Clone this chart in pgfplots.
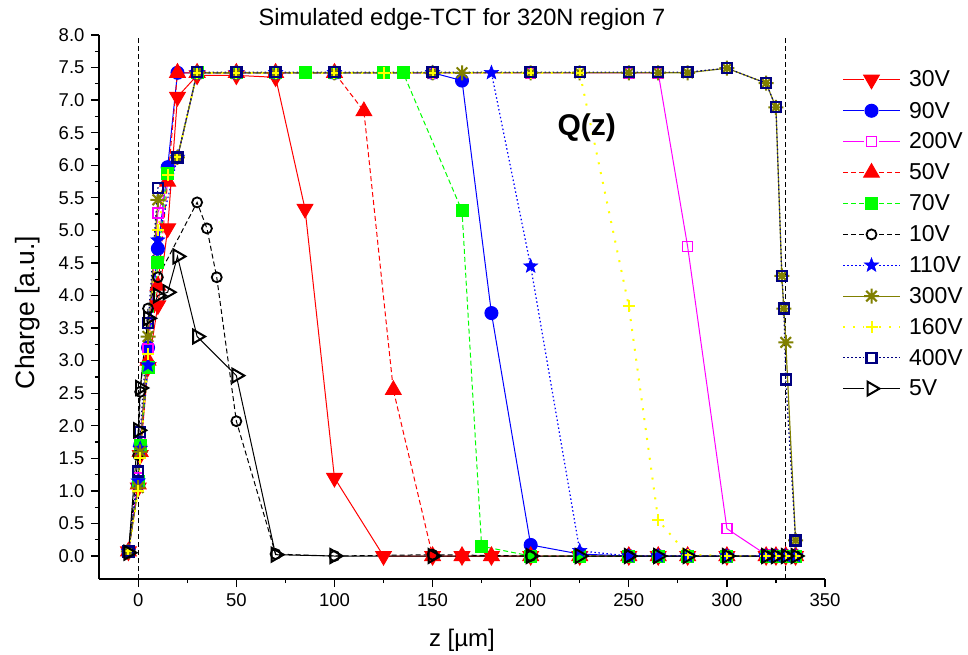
\documentclass[border=0pt]{standalone}
\usepackage{fontspec}
\setmainfont{Liberation Sans}
\usepackage{pgfplots}
\pgfplotsset{compat=1.18}

\definecolor{olv}{RGB}{128,128,0}
\definecolor{nvy}{RGB}{0,0,128}
\definecolor{ylw}{RGB}{255,255,0}
\definecolor{grn}{RGB}{0,255,0}
\definecolor{mag}{RGB}{255,0,255}

% filled five-pointed star
\pgfdeclareplotmark{fstar}{%
  \pgfpathmoveto{\pgfqpointpolar{90}{\pgfplotmarksize}}%
  \pgfpathlineto{\pgfqpointpolar{126}{0.42\pgfplotmarksize}}%
  \pgfpathlineto{\pgfqpointpolar{162}{\pgfplotmarksize}}%
  \pgfpathlineto{\pgfqpointpolar{198}{0.42\pgfplotmarksize}}%
  \pgfpathlineto{\pgfqpointpolar{234}{\pgfplotmarksize}}%
  \pgfpathlineto{\pgfqpointpolar{270}{0.42\pgfplotmarksize}}%
  \pgfpathlineto{\pgfqpointpolar{306}{\pgfplotmarksize}}%
  \pgfpathlineto{\pgfqpointpolar{342}{0.42\pgfplotmarksize}}%
  \pgfpathlineto{\pgfqpointpolar{18}{\pgfplotmarksize}}%
  \pgfpathlineto{\pgfqpointpolar{54}{0.42\pgfplotmarksize}}%
  \pgfpathclose
  \pgfusepathqfillstroke
}
% eight-armed asterisk
\pgfdeclareplotmark{ast8}{%
  \pgfpathmoveto{\pgfqpoint{-\pgfplotmarksize}{0pt}}%
  \pgfpathlineto{\pgfqpoint{\pgfplotmarksize}{0pt}}%
  \pgfpathmoveto{\pgfqpoint{0pt}{-\pgfplotmarksize}}%
  \pgfpathlineto{\pgfqpoint{0pt}{\pgfplotmarksize}}%
  \pgfpathmoveto{\pgfqpoint{-0.707\pgfplotmarksize}{-0.707\pgfplotmarksize}}%
  \pgfpathlineto{\pgfqpoint{0.707\pgfplotmarksize}{0.707\pgfplotmarksize}}%
  \pgfpathmoveto{\pgfqpoint{-0.707\pgfplotmarksize}{0.707\pgfplotmarksize}}%
  \pgfpathlineto{\pgfqpoint{0.707\pgfplotmarksize}{-0.707\pgfplotmarksize}}%
  \pgfusepathqstroke
}

\begin{document}
\begin{tikzpicture}
\useasboundingbox (-99pt,-76pt) rectangle (869pt,579pt);
\begin{axis}[
  scale only axis, width=726pt, height=544pt,
  xmin=-20, xmax=350, ymin=-0.353, ymax=8,
  axis lines*=left,
  axis line style={line width=1.5pt, -},
  tick align=outside,
  major tick length=8pt, minor tick length=4pt,
  every tick/.style={line width=1.3pt, black},
  xtick={0,50,...,350}, minor xtick={25,75,...,325},
  ytick={0,0.5,...,8}, minor ytick={0.25,0.75,...,7.75},
  /pgf/number format/assume math mode=true,
  tick label style={font=\fontsize{18.5}{18.5}\selectfont},
  xticklabel style={yshift=-3pt},
  yticklabel style={xshift=-3pt, /pgf/number format/.cd, fixed, fixed zerofill, precision=1},
  title={Simulated edge-TCT for 320N region 7},
  title style={font=\fontsize{23.6}{23.6}\selectfont, at={(0.5,1)}, anchor=base, yshift=3pt},
  xlabel={z [µm]}, ylabel={Charge [a.u.]},
  xlabel style={font=\fontsize{24}{24}\selectfont, at={(axis description cs:0.5,-0.112)}, anchor=center},
  ylabel style={font=\fontsize{26.5}{26.5}\selectfont, at={(axis description cs:-0.098,0.49)}, anchor=center},
  legend style={draw=none, fill=none, inner sep=0pt, outer sep=0pt,
    at={(1.0234,0.934)}, anchor=north west,
    font=\fontsize{23}{23}\selectfont, row sep=13.3pt,
    nodes={inner sep=0pt},
    /tikz/every odd column/.append style={column sep=8pt}},
  legend cell align=left,
  legend image code/.code={
    \draw[#1, mark=none] (0pt,0pt) -- (21pt,0pt) (36pt,0pt) -- (57pt,0pt);
    \draw[#1, only marks] plot coordinates {(28.5pt,0pt)};
  },
  clip=false,
]

% boundaries of the sensitive region
\addplot[black, line width=1pt, dash pattern=on 5pt off 3pt, forget plot] coordinates {(0,-0.353) (0,8)};
\addplot[black, line width=1pt, dash pattern=on 5pt off 3pt, forget plot] coordinates {(330,-0.353) (330,8)};

% 30V
\addplot[red, line width=1pt, mark=triangle*, mark size=9pt, mark options={solid, rotate=180, fill=red}] coordinates {
(-5,0.07) (0,1.05) (1,1.55) (5,2.9) (10,3.85) (15,5.03) (20,7.05) (30,7.38) (50,7.38) (70,7.35) (85,5.33) (100,1.2) (125,0.0) (150,0.0) (165,0.0) (180,0.0) (200,0.0) (225,0.0) (250,0.0) (265,0.0) (280,0.0) (300,0.0) (320,0.0) (325,0.0) (330,0.0) (335,0.0)};
\addlegendentry{30V}

% 90V
\addplot[blue, line width=1pt, mark=*, mark size=6.5pt, mark options={solid, fill=blue}] coordinates {
(-5,0.07) (0,1.1) (1,1.7) (5,3.2) (10,4.72) (15,5.97) (20,7.42) (30,7.42) (50,7.42) (70,7.42) (100,7.42) (150,7.42) (165,7.3) (180,3.73) (200,0.17) (225,0.03) (250,0.0) (265,0.0) (280,0.0) (300,0.0) (320,0.0) (325,0.0) (330,0.0) (335,0.0)};
\addlegendentry{90V}

% 200V
\addplot[mag, line width=1pt, mark=square, mark size=5pt, mark options={solid, line width=1.6pt}] coordinates {
(-5,0.07) (0,1.2) (1,1.75) (5,3.18) (10,5.27) (20,6.12) (30,7.42) (50,7.42) (70,7.42) (100,7.42) (150,7.42) (200,7.42) (250,7.42) (265,7.42) (280,4.75) (300,0.42) (320,0.02) (325,0.0) (330,0.0) (335,0.0)};
\addlegendentry{200V}

% 50V
\addplot[red, line width=1pt, dash pattern=on 5pt off 3pt, mark=triangle*, mark size=9pt, mark options={solid, fill=red}] coordinates {
(-5,0.07) (0,1.1) (1,1.6) (5,3.0) (10,4.15) (15,5.75) (20,7.42) (30,7.42) (50,7.42) (70,7.42) (100,7.42) (115,6.83) (130,2.55) (150,0.0) (165,0.0) (180,0.0) (200,0.0) (225,0.0) (250,0.0) (265,0.0) (280,0.0) (300,0.0) (320,0.0) (325,0.0) (330,0.0) (335,0.0)};
\addlegendentry{50V}

% 70V
\addplot[grn, line width=1pt, dash pattern=on 5pt off 3pt, mark=square*, mark size=6pt, mark options={solid, fill=grn}] coordinates {
(-5,0.07) (0,1.15) (1,1.7) (5,2.9) (10,4.5) (15,5.88) (20,6.12) (30,7.42) (50,7.42) (70,7.42) (85,7.42) (100,7.42) (125,7.42) (135,7.42) (165,5.3) (175,0.15) (200,0.0) (225,0.0) (250,0.0) (265,0.0) (280,0.0) (300,0.0) (320,0.0) (325,0.0) (330,0.0) (335,0.0)};
\addlegendentry{70V}

% 10V
\addplot[black, line width=1pt, dash pattern=on 5pt off 3pt, mark=o, mark size=5pt, mark options={solid, line width=1.8pt}] coordinates {
(-5,0.05) (0,1.55) (1,2.52) (5,3.8) (10,4.28) (30,5.43) (35,5.03) (40,4.28) (50,2.07) (70,0.03) (100,0.0) (150,0.02) (200,0.0) (250,0.0) (300,0.0) (320,0.0) (325,0.0) (330,0.0) (335,0.0)};
\addlegendentry{10V}

% 110V
\addplot[blue, line width=1.2pt, dash pattern=on 1.5pt off 2.5pt, mark=fstar, mark size=7.5pt, mark options={solid, fill=blue, line width=0.5pt}] coordinates {
(-5,0.07) (0,1.15) (1,1.65) (5,2.93) (10,4.85) (20,6.12) (30,7.42) (50,7.42) (70,7.42) (100,7.42) (150,7.42) (180,7.42) (200,4.45) (225,0.08) (250,0.0) (265,0.0) (280,0.0) (300,0.0) (320,0.0) (325,0.0) (330,0.0) (335,0.0)};
\addlegendentry{110V}

% 300V
\addplot[olv, line width=1.2pt, mark=ast8, mark size=7.5pt, mark options={solid, line width=2pt}] coordinates {
(-5,0.07) (0,1.05) (1,1.6) (5,3.37) (10,5.47) (20,6.12) (30,7.42) (50,7.42) (70,7.42) (100,7.42) (150,7.42) (165,7.42) (200,7.42) (225,7.42) (250,7.42) (265,7.42) (280,7.42) (300,7.49) (320,7.26) (325,6.89) (328,4.3) (329,3.8) (330,3.28) (335,0.24)};
\addlegendentry{300V}

% 160V
\addplot[ylw, line width=2pt, dash pattern=on 2pt off 8pt, mark=+, mark size=6pt, mark options={solid, line width=2pt}] coordinates {
(-5,0.07) (0,1.0) (1,1.5) (5,3.1) (10,5.0) (15,5.85) (20,6.12) (30,7.42) (50,7.42) (70,7.42) (100,7.42) (125,7.42) (150,7.42) (200,7.42) (225,7.42) (250,3.84) (265,0.55) (280,0.02) (300,0.0) (320,0.0) (325,0.0) (330,0.0) (335,0.0)};
\addlegendentry{160V}

% 400V
\addplot[nvy, line width=1.2pt, dash pattern=on 1.5pt off 2.5pt, mark=square, mark size=5pt, mark options={solid, line width=2.4pt}] coordinates {
(-5,0.07) (0,1.3) (1,1.9) (5,3.58) (10,5.65) (20,6.12) (30,7.43) (50,7.43) (70,7.43) (100,7.43) (150,7.43) (200,7.43) (225,7.43) (250,7.43) (265,7.43) (280,7.43) (300,7.49) (320,7.26) (325,6.89) (328,4.3) (329,3.8) (330,2.71) (335,0.24)};
\addlegendentry{400V}

% 5V
\addplot[black, line width=1pt, mark=triangle, mark size=8pt, mark options={solid, rotate=-90, line width=2pt}] coordinates {
(-5,0.05) (0,1.93) (1,2.58) (5,3.65) (10,4.0) (15,4.05) (20,4.6) (30,3.37) (50,2.77) (70,0.02) (100,0.0) (150,0.0) (200,0.0) (225,0.0) (250,0.0) (265,0.0) (280,0.0) (300,0.0) (320,0.0) (325,0.0) (330,0.0) (335,0.0)};
\addlegendentry{5V}

\node[font=\fontsize{30}{30}\selectfont\bfseries] at (axis cs:228.6,6.57) {Q(z)};
\end{axis}
\end{tikzpicture}
\end{document}
